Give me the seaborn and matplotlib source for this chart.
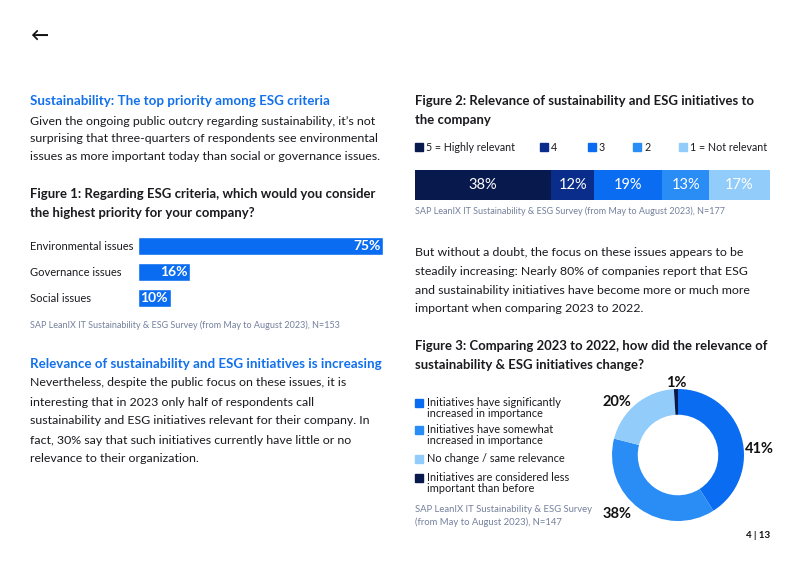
import numpy as np
import pandas as pd
import seaborn as sns
import matplotlib
matplotlib.use("Agg")
import matplotlib.pyplot as plt
from matplotlib.patches import Rectangle

# ---------------- data ----------------
fig1_categories = ["Environmental issues", "Governance issues", "Social issues"]
fig1_values = [75, 16, 10]

fig2_levels = ["5 = Highly relevant", "4", "3", "2", "1 = Not relevant"]
fig2_values = [38, 12, 19, 13, 17]

fig3_labels = ["Initiatives have significantly\nincreased in importance",
               "Initiatives have somewhat\nincreased in importance",
               "No change / same relevance",
               "Initiatives are considered less\nimportant than before"]
fig3_values = [41, 38, 20, 1]

# ---------------- style ----------------
sns.set_theme(style="white")
FONT = ["Lato", "DejaVu Sans"]
plt.rcParams["font.family"] = FONT

W, H = 800, 564
fig = plt.figure(figsize=(W / 100, H / 100), dpi=100)
fig.patch.set_facecolor("white")

BLUE_HEAD = "#1170eb"
TXT = "#1a1a1f"
SRC = "#74809c"
C5, C4, C3, C2, C1 = "#08194d", "#0a2c8b", "#0a6cf0", "#2a8df5", "#92ccfb"
FIG2_COLORS = [C5, C4, C3, C2, C1]
FIG3_COLORS = [C3, C2, C1, C5]

BODY = 8.95
HEAD = 9.6
FIGT = 9.45
SMALL = 6.5


def T(x, y, s, size=BODY, color=TXT, weight="normal", ha="left", va="center", **kw):
    fig.text(x / W, 1 - y / H, s, fontsize=size, color=color, fontweight=weight,
             ha=ha, va=va, **kw)


def lines(x, ys, texts, **kw):
    for y, s in zip(ys, texts):
        T(x, y, s, **kw)


def axes_px(left, top, width, height):
    return fig.add_axes([left / W, 1 - (top + height) / H, width / W, height / H])


# ---------------- left column text ----------------
T(30, 35, "\u2190", size=13, color="#111111", weight="bold")
T(30, 101, "Sustainability: The top priority among ESG criteria", size=HEAD,
  color=BLUE_HEAD, weight="bold")
lines(30, [121, 139, 157],
      ["Given the ongoing public outcry regarding sustainability, it\u2019s not",
       "surprising that three-quarters of respondents see environmental",
       "issues as more important today than social or governance issues."])
lines(30, [194, 213],
      ["Figure 1: Regarding ESG criteria, which would you consider",
       "the highest priority for your company?"], size=FIGT, weight="bold")
T(30, 325, "SAP LeanIX IT Sustainability & ESG Survey (from May to August 2023), N=153",
  size=SMALL, color=SRC)
T(30, 364, "Relevance of sustainability and ESG initiatives is increasing", size=HEAD,
  color=BLUE_HEAD, weight="bold")
lines(30, [383, 402, 421, 440, 459],
      ["Nevertheless, despite the public focus on these issues, it is",
       "interesting that in 2023 only half of respondents call",
       "sustainability and ESG initiatives relevant for their company. In",
       "fact, 30% say that such initiatives currently have little or no",
       "relevance to their organization."])

# ---------------- Figure 1 (seaborn barplot) ----------------
df1 = pd.DataFrame({"category": fig1_categories, "value": fig1_values})
ax1 = axes_px(138, 233, 327, 78)
sns.barplot(data=df1, x="value", y="category", orient="h", color=C3,
            width=0.70, saturation=1, ax=ax1)
ax1.set_xlim(0, 100)
ax1.set_ylim(2.5, -0.5)
ax1.set_xlabel("")
ax1.set_ylabel("")
ax1.set_xticks([])
sns.despine(ax=ax1, left=True, bottom=True)
ax1.tick_params(axis="y", length=0, pad=108 * 0.72)
for lab in ax1.get_yticklabels():
    lab.set_horizontalalignment("left")
    lab.set_fontsize(8.0)
    lab.set_color(TXT)
for i, v in enumerate(fig1_values):
    ax1.annotate(f"{v}%", (v, i), xytext=(-2, 0), textcoords="offset points",
                 ha="right", va="center", color="white", fontsize=10,
                 fontweight="bold")

# ---------------- right column text ----------------
lines(415, [101, 120],
      ["Figure 2: Relevance of sustainability and ESG initiatives to",
       "the company"], size=FIGT, weight="bold")

# legend of figure 2
leg_x = [415, 540, 588, 633, 679]
for x, lab, col in zip(leg_x, fig2_levels, FIG2_COLORS):
    fig.patches.append(Rectangle((x / W, 1 - 151 / H), 8 / W, 8 / H,
                                 transform=fig.transFigure, color=col))
    T(x + 11, 147, lab, size=7.7)

# stacked bar figure 2
ax2 = axes_px(415, 170, 355, 30)
lefts = np.concatenate([[0], np.cumsum(fig2_values)[:-1]])
ax2.barh([0] * len(fig2_values), fig2_values, left=lefts, height=1.0,
         color=FIG2_COLORS, edgecolor="none")
ax2.set_xlim(0, sum(fig2_values))
ax2.set_ylim(-0.5, 0.5)
ax2.axis("off")
for l, v in zip(lefts, fig2_values):
    ax2.text(l + v / 2, 0, f"{v}%", ha="center", va="center", color="white",
             fontsize=10.5)

T(415, 211, "SAP LeanIX IT Sustainability & ESG Survey (from May to August 2023), N=177",
  size=SMALL, color=SRC)

lines(415, [252, 271, 290, 309],
      ["But without a doubt, the focus on these issues appears to be",
       "steadily increasing: Nearly 80% of companies report that ESG",
       "and sustainability initiatives have become more or much more",
       "important when comparing 2023 to 2022."])
lines(415, [346, 365],
      ["Figure 3: Comparing 2023 to 2022, how did the relevance of",
       "sustainability & ESG initiatives change?"], size=FIGT, weight="bold")

# legend figure 3
leg3_y = [403, 430, 459, 478]
for y, lab, col in zip(leg3_y, fig3_labels, FIG3_COLORS):
    fig.patches.append(Rectangle((415 / W, 1 - (y + 4) / H), 8 / W, 8 / H,
                                 transform=fig.transFigure, color=col))
    T(427, y - 6, lab, size=7.9, va="top", linespacing=0.95)

lines(415, [509, 522],
      ["SAP LeanIX IT Sustainability & ESG Survey",
       "(from May to August 2023), N=147"], size=SMALL + 0.3, color=SRC)

# donut figure 3
R = 66
ax3 = axes_px(678 - 100, 455 - 100, 200, 200)
ax3.pie(fig3_values, colors=FIG3_COLORS, startangle=90, counterclock=False,
        radius=1, wedgeprops=dict(width=0.39, edgecolor="none"))
lim = 100 / R
ax3.set_xlim(-lim, lim)
ax3.set_ylim(-lim, lim)
ax3.set_aspect("equal")
lab_pos = [(1.24, 0.09), (-0.92, -0.89), (-0.92, 0.80), (-0.03, 1.09)]
for (x, y), v in zip(lab_pos, fig3_values):
    ax3.text(x, y, f"{v}%", ha="center", va="center", fontsize=10.5,
             fontweight="bold", color="#111111")

T(770, 536, "4 | 13", size=7, weight="bold", ha="right", color="#111111")

fig.savefig("out.png", dpi=100, facecolor="white")
